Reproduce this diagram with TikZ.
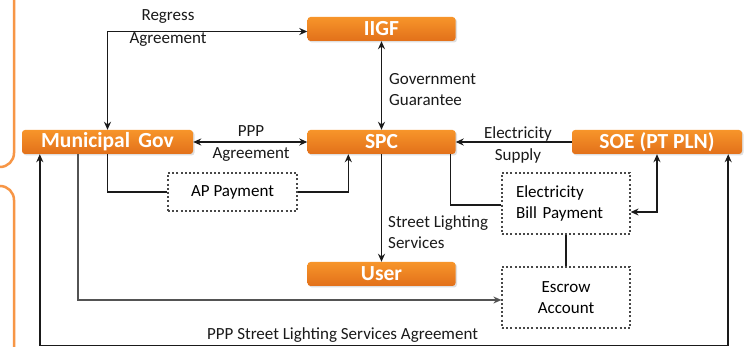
\documentclass[tikz,border=0pt]{standalone}
\usepackage{fontspec}
\setmainfont{Carlito}
\usetikzlibrary{arrows.meta,shadows,calc}
\definecolor{orangeTop}{HTML}{F7952A}
\definecolor{orangeBot}{HTML}{E2701A}
\definecolor{frameOrange}{HTML}{F79646}
\definecolor{lineInk}{HTML}{1A1A1A}
\tikzset{
  orangebox/.style={rectangle, rounded corners=3pt, top color=orangeTop, bottom color=orangeBot,
    draw=none, text=white, font=\fontsize{21.5}{23}\selectfont\bfseries, inner sep=0pt,
    minimum height=24pt, drop shadow={shadow xshift=1.5pt, shadow yshift=-1.5pt, opacity=0.25}},
  dashbox/.style={rectangle, draw=lineInk!80, dash pattern=on 2pt off 2.2pt, line width=1.2pt,
    inner sep=0pt, font=\fontsize{17}{21}\selectfont, align=left},
  conn/.style={draw=lineInk, line width=1.5pt},
  tip/.style={-{Stealth[length=8pt,width=7pt]}},
  tips/.style={{Stealth[length=8pt,width=7pt]}-{Stealth[length=8pt,width=7pt]}},
  lbl/.style={font=\fontsize{17}{21}\selectfont, inner sep=0pt, text=lineInk},
  leftframe/.style={draw=frameOrange, line width=2.5pt, rounded corners=14pt}
}
\begin{document}
\begin{tikzpicture}[x=1pt,y=-1pt]
\useasboundingbox (0,0) rectangle (747,347);
\fill[white] (0,0) rectangle (747,347);
% left orange frames
\draw[leftframe] (-40,-20) rectangle (14,167);
\draw[leftframe] (-40,186) rectangle (14,362);
% boxes
\node[orangebox, minimum width=148pt] (iigf) at (381.5,29) {IIGF};
\node[orangebox, minimum width=171pt] (muni) at (107.5,142) {Municipal\, Gov};
\node[orangebox, minimum width=148pt] (spc) at (381.5,142) {SPC};
\node[orangebox, minimum width=170pt] (soe) at (657,142) {SOE (PT PLN)};
\node[orangebox, minimum width=148pt] (user) at (381.5,274) {User};
\node[dashbox, minimum width=129pt, minimum height=38pt, align=center] (ap) at (232.5,192) {AP Payment};
\node[dashbox, minimum width=128pt, minimum height=61pt, text width=100pt] (ebp) at (566,203.5) {Electricity\\Bill Payment};
\node[dashbox, minimum width=128pt, minimum height=61pt, align=center] (escrow) at (566,297.5) {Escrow\\Account};
\coordinate (bot) at (0,345.5);
% connectors
\draw[conn,tips] ([yshift=-2.5pt]iigf.west) -| (muni.north);
\node[lbl, align=center] (regl) at (168,28.5) {Regress\\[2pt]Agreement};
\draw[conn,tips] (muni.east) -- (spc.west);
\node[lbl, align=center] (pppl) at (251,144) {PPP\\[1pt]Agreement};
\draw[conn,tips] (iigf.south) -- (spc.north);
\node[lbl, align=left, anchor=west] (ggl) at (389,89.5) {Government\\Guarantee};
\draw[conn,tip] (soe.west) -- (spc.east);
\node[lbl, align=center] (esl) at (518,144.5) {Electricity\\[1pt]Supply};
\draw[conn,tip] (spc.south) -- (user.north);
\node[lbl, align=left, anchor=west] (sll) at (388,232.5) {Street Lighting\\Services};
\draw[conn] (muni.south) |- (ap.west);
\draw[conn,tip] (ap.east) -| ([xshift=41pt]spc.south west);
\draw[conn] ([xshift=-5pt]spc.south east) |- ([yshift=-1.5pt]ebp.west);
\draw[conn,tips] ([yshift=-8.5pt]ebp.east) -| (soe.south);
\draw[conn] (ebp.south) -- (escrow.north);
\draw[conn, draw=lineInk!75, line width=1.8pt,tip] ([xshift=56pt]muni.south west) |- ([yshift=-2.5pt]escrow.west);
\draw[conn,tips] ([xshift=18pt]muni.south west) -- ([xshift=18pt]muni.south west |- bot) -| ([xshift=-14pt]soe.south east);
\node[lbl] (pssl) at (342.5,335) {PPP Street Lighting Services Agreement};
\end{tikzpicture}
\end{document}
